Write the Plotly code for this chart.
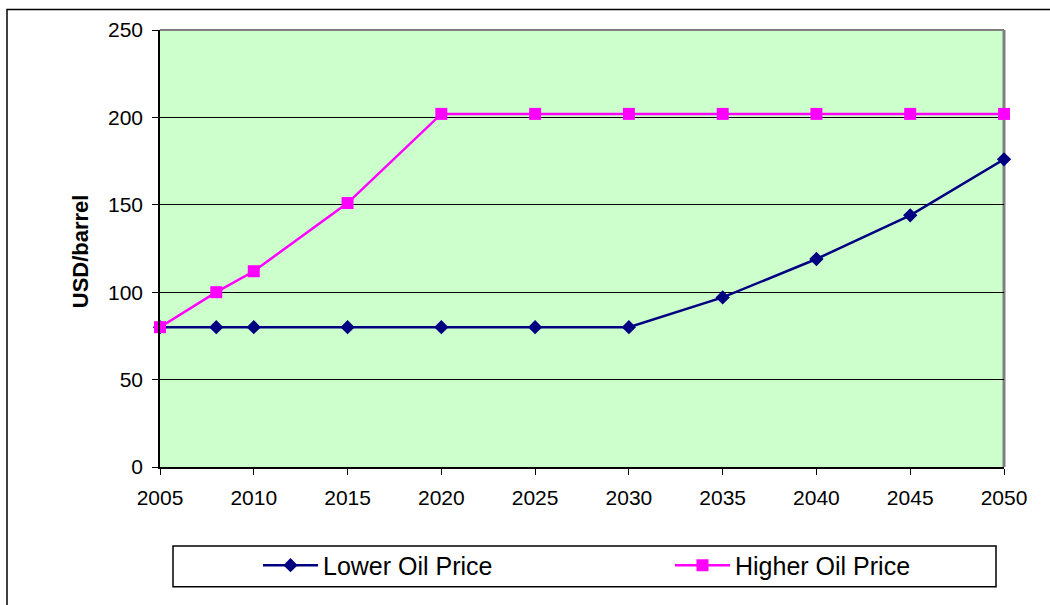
import plotly.graph_objects as go

# Oil price scenarios, USD per barrel
years = [2005, 2008, 2010, 2015, 2020, 2025, 2030, 2035, 2040, 2045, 2050]
lower_oil_price = [80, 80, 80, 80, 80, 80, 80, 97, 119, 144, 176]
higher_oil_price = [80, 100, 112, 151, 202, 202, 202, 202, 202, 202, 202]

x_ticks = [2005, 2010, 2015, 2020, 2025, 2030, 2035, 2040, 2045, 2050]
y_ticks = [0, 50, 100, 150, 200, 250]

FONT = "Liberation Sans, Arial, sans-serif"

# plot-area geometry in pixels
W, H = 1050, 605
L, R, T, B = 160, 1004, 29.5, 467
pw, ph = R - L, B - T


def px_x(v):
    return (v - L) / pw


def px_y(v):
    return (B - v) / ph


fig = go.Figure()

fig.add_trace(go.Scatter(
    x=years, y=lower_oil_price, name="Lower Oil Price",
    mode="lines+markers",
    line=dict(color="#000080", width=2.5),
    marker=dict(symbol="diamond", size=11, color="#000080"),
    cliponaxis=False,
))
fig.add_trace(go.Scatter(
    x=years, y=higher_oil_price, name="Higher Oil Price",
    mode="lines+markers",
    line=dict(color="#FF00FF", width=2.5),
    marker=dict(symbol="square", size=12, color="#FF00FF"),
    cliponaxis=False,
))

fig.update_layout(
    width=W, height=H,
    margin=dict(l=L, r=W - R, t=T, b=H - B, pad=0, autoexpand=False),
    paper_bgcolor="white",
    plot_bgcolor="#CCFFCC",
    font=dict(family=FONT, color="black", size=21),
    showlegend=True,
    legend=dict(
        orientation="h",
        x=px_x(258), xanchor="left",
        y=px_y(565.5), yanchor="middle",
        bgcolor="rgba(0,0,0,0)", borderwidth=0,
        font=dict(family=FONT, size=25, color="black"),
        entrywidth=342, entrywidthmode="pixels",
        itemwidth=55,
    ),
    xaxis=dict(
        range=[2005, 2050], tickvals=x_ticks,
        showgrid=False, zeroline=False,
        showline=True, linecolor="black", linewidth=1.5,
        ticks="outside", ticklen=6, tickcolor="black", tickwidth=1,
        ticklabelstandoff=5,
        tickfont=dict(family=FONT, size=21),
    ),
    yaxis=dict(
        range=[0, 250], tickvals=y_ticks,
        showgrid=True, gridcolor="black", gridwidth=1,
        zeroline=False,
        showline=True, linecolor="black", linewidth=1.5,
        ticks="outside", ticklen=6, tickcolor="black", tickwidth=1,
        ticklabelstandoff=5,
        tickfont=dict(family=FONT, size=21),
    ),
    annotations=[dict(
        text="<b>USD/barrel</b>", textangle=-90,
        xref="paper", yref="paper",
        x=px_x(80), y=px_y(251), xanchor="center", yanchor="middle",
        showarrow=False, font=dict(family=FONT, size=22, color="black"),
    )],
    shapes=[
        # grey frame on the top and right of the plot area
        dict(type="line", xref="paper", yref="paper", x0=0, x1=1, y0=1, y1=1,
             line=dict(color="#808080", width=2), layer="above"),
        dict(type="line", xref="paper", yref="paper", x0=1, x1=1, y0=0, y1=1,
             line=dict(color="#808080", width=3), layer="below"),
        # legend box
        dict(type="rect", xref="paper", yref="paper",
             x0=px_x(173), x1=px_x(996), y0=px_y(546), y1=px_y(587),
             line=dict(color="black", width=1.5), fillcolor="rgba(0,0,0,0)"),
        # chart-area outline
        dict(type="rect", xref="paper", yref="paper",
             x0=px_x(7), x1=px_x(1065), y0=px_y(9), y1=px_y(620),
             line=dict(color="black", width=1.5), fillcolor="rgba(0,0,0,0)"),
    ],
)

fig.write_html("out.html")
